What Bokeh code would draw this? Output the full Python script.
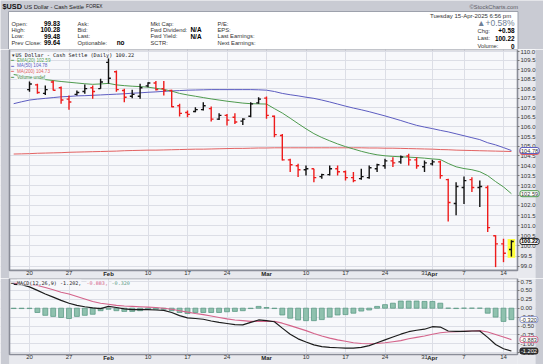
from bokeh.plotting import figure
from bokeh.models import Range1d, FixedTicker, Label, ColumnDataSource, PrintfTickFormatter, LinearAxis, Grid
from bokeh.layouts import column
from bokeh.embed import file_html
from bokeh.resources import INLINE
from bokeh.core.properties import value

# ---------------- data ----------------
dates = ["2025-01-16", "2025-01-17",
         "2025-01-20", "2025-01-21", "2025-01-22", "2025-01-23", "2025-01-24",
         "2025-01-27", "2025-01-28", "2025-01-29", "2025-01-30", "2025-01-31",
         "2025-02-03", "2025-02-04", "2025-02-05", "2025-02-06", "2025-02-07",
         "2025-02-10", "2025-02-11", "2025-02-12", "2025-02-13", "2025-02-14",
         "2025-02-17", "2025-02-18", "2025-02-19", "2025-02-20", "2025-02-21",
         "2025-02-24", "2025-02-25", "2025-02-26", "2025-02-27", "2025-02-28",
         "2025-03-03", "2025-03-04", "2025-03-05", "2025-03-06", "2025-03-07",
         "2025-03-10", "2025-03-11", "2025-03-12", "2025-03-13", "2025-03-14",
         "2025-03-17", "2025-03-18", "2025-03-19", "2025-03-20", "2025-03-21",
         "2025-03-24", "2025-03-25", "2025-03-26", "2025-03-27", "2025-03-28",
         "2025-03-31", "2025-04-01", "2025-04-02", "2025-04-03", "2025-04-04",
         "2025-04-07", "2025-04-08", "2025-04-09", "2025-04-10", "2025-04-11",
         "2025-04-14", "2025-04-15"]

opens = [None, None,
         107.95, 108.20, 107.75, 108.35, 108.05,
         107.45, 107.70, 107.85, 108.05, 108.00,
         109.40, 108.90, 107.90, 107.60, 107.60,
         108.15, 108.30, 108.00, 107.90, 107.10,
         106.75, 106.80, 106.90, 106.95, 106.40,
         106.60, 106.50, 106.30, 106.55, 107.25,
         107.50, 106.55, 105.55, 104.30, 104.00,
         103.80, 103.85, 103.45, 103.55, 103.85,
         103.70, 103.40, 103.35, 103.40, 103.85,
         104.00, 104.25, 104.20, 104.50, 104.30,
         103.95, 104.10, 104.20, 103.30, 102.10,
         102.90, 103.30, 102.90, 102.90, 100.50,
         100.10, 99.83]
highs = [None, None,
         108.38, 108.26, 108.17, 108.43, 108.12,
         107.64, 107.90, 108.22, 108.17, 108.52,
         109.68, 108.97, 107.99, 107.94, 108.26,
         108.34, 108.40, 108.40, 107.94, 107.20,
         106.85, 107.02, 107.29, 107.06, 106.71,
         106.67, 106.71, 106.45, 107.29, 107.55,
         107.59, 106.59, 105.63, 104.36, 104.10,
         104.02, 103.85, 103.60, 104.02, 104.02,
         103.76, 103.68, 103.85, 104.02, 104.10,
         104.36, 104.44, 104.53, 104.61, 104.44,
         104.27, 104.31, 104.27, 103.34, 103.17,
         103.46, 103.42, 103.26, 103.00, 100.52,
         100.35, 100.28]
lows = [None, None,
        107.84, 107.73, 107.67, 107.90, 107.20,
        106.89, 107.64, 107.73, 107.47, 107.99,
        108.26, 107.84, 107.29, 107.50, 107.47,
        108.07, 107.90, 107.64, 107.02, 106.54,
        106.50, 106.76, 106.85, 106.28, 106.36,
        106.07, 106.15, 106.10, 106.50, 107.20,
        106.42, 105.46, 104.27, 103.68, 103.43,
        103.51, 103.17, 103.34, 103.51, 103.51,
        103.26, 103.17, 103.29, 103.34, 103.68,
        103.85, 103.94, 104.10, 104.02, 103.85,
        103.68, 104.02, 103.34, 101.20, 101.51,
        102.08, 102.67, 101.92, 100.68, 98.97,
        99.21, 99.48]
closes = [None, None,
          108.25, 107.80, 107.95, 107.92, 107.40,
          107.30, 107.80, 108.00, 107.85, 108.35,
          108.55, 107.95, 107.55, 107.70, 108.05,
          108.30, 107.95, 107.90, 107.05, 106.70,
          106.65, 106.90, 107.10, 106.40, 106.60,
          106.35, 106.25, 106.40, 107.20, 107.45,
          106.60, 105.60, 104.30, 104.05, 103.80,
          103.85, 103.40, 103.55, 103.85, 103.70,
          103.40, 103.25, 103.45, 103.90, 104.05,
          104.25, 104.15, 104.45, 104.30, 104.00,
          104.15, 104.20, 103.50, 102.15, 102.95,
          103.25, 102.90, 102.95, 100.90, 100.10,
          99.64, 100.22]

ema20 = [108.75, 108.68, 108.62, 108.55, 108.48, 108.43, 108.38, 108.34, 108.30, 108.26,
         108.23, 108.25, 108.28, 108.20, 108.16, 108.13, 108.11, 108.08, 108.02, 107.96,
         107.87, 107.75, 107.67, 107.60, 107.53, 107.46, 107.40, 107.34, 107.29, 107.24,
         107.21, 107.20, 107.19, 106.95, 106.72, 106.45, 106.17, 105.90, 105.65, 105.45,
         105.28, 105.12, 104.98, 104.86, 104.74, 104.64, 104.56, 104.51, 104.48, 104.46,
         104.44, 104.42, 104.39, 104.35, 104.32, 104.12, 103.95, 103.86, 103.80, 103.70,
         103.50, 103.20, 102.93, 102.59]
ma50 = [107.21, 107.31, 107.40, 107.45, 107.49, 107.53, 107.57, 107.59, 107.62, 107.63,
        107.65, 107.67, 107.69, 107.71, 107.73, 107.76, 107.78, 107.81, 107.83, 107.86,
        107.88, 107.90, 107.92, 107.93, 107.94, 107.95, 107.95, 107.95, 107.95, 107.95,
        107.95, 107.94, 107.92, 107.85, 107.75, 107.68, 107.62, 107.55, 107.49, 107.40,
        107.30, 107.19, 107.08, 106.98, 106.89, 106.79, 106.68, 106.57, 106.45, 106.33,
        106.20, 106.08, 105.99, 105.91, 105.82, 105.74, 105.64, 105.54, 105.44, 105.34,
        105.18, 105.07, 104.93, 104.78]
ma200 = [104.60, 104.61, 104.62, 104.64, 104.65, 104.66, 104.67, 104.69, 104.70, 104.71,
         104.72, 104.73, 104.74, 104.75, 104.77, 104.78, 104.79, 104.80, 104.80, 104.81,
         104.82, 104.83, 104.84, 104.85, 104.85, 104.86, 104.87, 104.88, 104.89, 104.89,
         104.90, 104.91, 104.91, 104.92, 104.92, 104.92, 104.92, 104.92, 104.92, 104.92,
         104.92, 104.92, 104.92, 104.92, 104.92, 104.91, 104.91, 104.90, 104.90, 104.89,
         104.88, 104.87, 104.86, 104.85, 104.83, 104.82, 104.80, 104.79, 104.78, 104.77,
         104.76, 104.75, 104.74, 104.73]

macd_line = [0.67, 0.66, 0.60, 0.50, 0.40, 0.31, 0.22, 0.14, 0.08, 0.04,
             0.01, -0.01, 0.05, 0.02, -0.02, -0.04, -0.04, -0.04, -0.05, -0.06,
             -0.12, -0.21, -0.27, -0.29, -0.31, -0.36, -0.40, -0.43, -0.46, -0.47,
             -0.40, -0.33, -0.35, -0.38, -0.56, -0.73, -0.86, -0.95, -1.03, -1.08,
             -1.10, -1.11, -1.12, -1.12, -1.10, -1.05, -0.97, -0.89, -0.81, -0.73,
             -0.66, -0.62, -0.59, -0.52, -0.53, -0.64, -0.65, -0.65, -0.64, -0.64,
             -0.82, -1.02, -1.14, -1.202]
macd_signal = [0.70, 0.69, 0.67, 0.64, 0.58, 0.52, 0.45, 0.40, 0.33, 0.26,
               0.19, 0.14, 0.11, 0.08, 0.06, 0.05, 0.04, 0.03, 0.02, 0.00,
               -0.03, -0.07, -0.11, -0.15, -0.18, -0.22, -0.26, -0.30, -0.33, -0.35,
               -0.37, -0.37, -0.37, -0.37, -0.42, -0.49, -0.56, -0.63, -0.71, -0.78,
               -0.84, -0.89, -0.93, -0.97, -0.99, -1.00, -0.99, -0.97, -0.94, -0.91,
               -0.86, -0.82, -0.78, -0.73, -0.69, -0.67, -0.66, -0.65, -0.64, -0.63,
               -0.67, -0.74, -0.81, -0.883]
macd_hist = [-0.01, -0.01, -0.01, -0.12, -0.20, -0.23, -0.26, -0.29, -0.23, -0.20,
             -0.17, -0.07, -0.03, -0.07, -0.09, -0.09, -0.07, -0.03, -0.03, -0.03,
             -0.07, -0.12, -0.15, -0.12, -0.12, -0.12, -0.12, -0.10, -0.09, -0.07,
             -0.01, 0.05, 0.02, -0.01, -0.19, -0.28, -0.33, -0.35, -0.35, -0.32,
             -0.25, -0.19, -0.18, -0.14, -0.08, -0.05, 0.05, 0.10, 0.14, 0.20,
             0.20, 0.20, 0.19, 0.19, 0.14, 0.00, -0.01, 0.00, 0.00, 0.00,
             -0.14, -0.25, -0.37, -0.320]

tick_dates = ["2025-01-20", "2025-01-27", "2025-02-03", "2025-02-10", "2025-02-17",
              "2025-02-24", "2025-03-03", "2025-03-10", "2025-03-17", "2025-03-24",
              "2025-03-31", "2025-04-01", "2025-04-07", "2025-04-14"]
tick_labels = ["20", "27", "Feb", "10", "17", "24", "Mar", "10", "17", "24", "31", "Apr", "7", "14"]
month_labels = ["Feb", "Mar", "Apr"]
grid_dates = ["2025-01-20", "2025-01-27", "2025-02-03", "2025-02-10", "2025-02-17",
              "2025-02-24", "2025-03-03", "2025-03-10", "2025-03-17", "2025-03-24",
              "2025-04-01", "2025-04-07", "2025-04-14"]
price_ticks = [99.0, 99.5, 100.0, 100.5, 101.0, 101.5, 102.0, 102.5, 103.0, 103.5, 104.0,
               104.5, 105.0, 105.5, 106.0, 106.5, 107.0, 107.5, 108.0, 108.5, 109.0, 109.5, 110.0]
macd_ticks = [-1.25, -1.0, -0.75, -0.5, -0.25, 0.0, 0.25, 0.5, 0.75]

symbol = "$USD"
name = "US Dollar - Cash Settle"
exchange = "FOREX"
hdr_col1_labels = ["Open:", "High:", "Low:", "Prev Close:"]
hdr_col1_values = ["99.83", "100.28", "99.48", "99.64"]
hdr_col2_labels = ["Ask:", "Bid:", "Last:", "Optionable:"]
hdr_col2_values = ["", "", "", "no"]
hdr_col3_labels = ["Mkt Cap:", "Fwd Dividend:", "Fwd Yield:", "SCTR:"]
hdr_col3_values = ["", "N/A", "N/A", ""]
hdr_col4_labels = ["P/E:", "EPS:", "Last Earnings:", "Next Earnings:"]
hdr_date = "Tuesday  15-Apr-2025  6:56 pm"
hdr_pct = "\u25b2+0.58%"
hdr_right_labels = ["Chg:", "Last:", "Volume:"]
hdr_right_values = ["+0.58", "100.22", "0"]

assert len(dates) == 64
for arr in (opens, highs, lows, closes, ema20, ma50, ma200, macd_line, macd_signal, macd_hist):
    assert len(arr) == 64, len(arr)

# ---------------- style ----------------
W = 543
FONT = "Liberation Sans"
MONO = "DejaVu Sans Mono"
PLOT_BG = "#f7f8fb"
AXIS_BG = "#e8e9ee"
OUTER = "#c9cbd3"
GRID = "#dcdee6"
GRID_MONTH = "#b9bcc6"
BORDER = "#8a8d98"
UP = "#111111"
DOWN = "#ee1c1c"
C_EMA = "#4e9a4e"
C_MA50 = "#5c5cc0"
C_MA200 = "#e26262"
C_MACD = "#1c1c1c"
C_SIG = "#d4638a"
C_HIST = "#8fc1ae"
C_HIST_LINE = "#5d9a86"

n = len(dates)
idx = list(range(n))


def pos(d):
    return dates.index(d)


tick_idx = [pos(d) for d in tick_dates]
grid_idx = [pos(d) for d in grid_dates]
overrides = {t: ("" if lab in month_labels else lab) for t, lab in zip(tick_idx, tick_labels)}
month_idx = [(t, lab) for t, lab in zip(tick_idx, tick_labels) if lab in month_labels]


def ix(px):
    # page x (pixels) -> bar index
    return (px - 13.2) / 7.9


XL, XR = ix(0), ix(W)          # whole figure width is frame
X0, X1 = ix(9.0), ix(517.0)     # plot panel
XA = ix(535.0)                  # end of axis strip
xr = Range1d(XL, XR)

# ---------------- header ----------------
HH = 49
h = figure(width=W, height=HH, x_range=Range1d(0, W), y_range=Range1d(HH, 0),
           toolbar_location=None, output_backend="svg", min_border=0,
           x_axis_location=None, y_axis_location=None,
           background_fill_color=OUTER, border_fill_color=OUTER, outline_line_color=None)
h.grid.visible = False
h.quad(left=[8], right=[517.5], top=[11], bottom=[HH + 1], fill_color="white", line_color="#9da1ac")


def htext(xs, ys, texts, size="5.8px", style="normal", align="left", color="#333333", font=FONT):
    h.text(x=xs, y=ys, text=texts, text_font=value(font), text_font_size=value(size),
           text_font_style=style, text_align=align, text_baseline="middle", text_color=color)


rows = [23.0, 29.4, 35.8, 42.3]
htext([2], [6], [symbol], size="7.3px", style="bold", color="#111111")
htext([23.5], [6.3], [name], size="5.8px", color="#222222")
htext([85.5], [6.3], [exchange], size="4.8px", color="#222222")
htext([517.5], [6], ["\u00a9StockCharts.com"], size="5.8px", align="right", color="#5c5c66")
htext([11] * 4, rows, hdr_col1_labels)
htext([59.5] * 4, rows, hdr_col1_values, size="6.4px", style="bold", align="right", color="#000000")
htext([77] * 4, rows, hdr_col2_labels)
htext([124] * 4, rows, hdr_col2_values, size="6.4px", style="bold", align="right", color="#000000")
htext([150] * 4, rows, hdr_col3_labels)
htext([190] * 4, rows, hdr_col3_values, size="6.4px", style="bold", color="#000000")
htext([217] * 4, rows, hdr_col4_labels)
htext([514], [15], [hdr_date], size="6px", align="right")
htext([514], [22.4], [hdr_pct], size="8.5px", align="right", color="#6f7f96")
htext([477] * 3, [30.0, 37.7, 45.5], hdr_right_labels)
htext([514] * 3, [30.0, 37.7, 45.5], hdr_right_values, size="6.4px", style="bold", align="right",
      color="#000000")


# ---------------- helpers ----------------
def make_panel(height, yr, ylog, y_lo, y_bottom_end, yticks, yfmt):
    """Panel whose frame covers the whole figure; plot area is X0..X1 x y_lo..top."""
    fig = figure(width=W, height=height, x_range=xr, y_range=yr,
                 y_axis_type="log" if ylog else "linear",
                 y_axis_location="right", x_axis_location="below",
                 toolbar_location=None, output_backend="svg", min_border=0,
                 background_fill_color=PLOT_BG, border_fill_color=OUTER, outline_line_color=None)
    top = yr.end
    bot = y_bottom_end
    # darker grid lines at month starts
    fig.add_layout(Grid(dimension=0, ticker=FixedTicker(ticks=[t for t, _ in month_idx]),
                        grid_line_color=GRID_MONTH, grid_line_width=1))
    # strips that are not plot area (cover the grid lines there)
    fig.quad(left=[XL], right=[X0], bottom=[bot], top=[top], fill_color=OUTER, line_color=None)
    fig.quad(left=[X1], right=[XA], bottom=[bot], top=[top], fill_color=AXIS_BG, line_color=None)
    fig.quad(left=[XA], right=[XR], bottom=[bot], top=[top], fill_color=OUTER, line_color=None)
    fig.quad(left=[X0], right=[X1], bottom=[bot], top=[y_lo], fill_color=AXIS_BG, line_color=None)
    # y axis (tick labels in the strip right of the panel)
    ya = fig.yaxis[0]
    ya.fixed_location = X1
    ya.ticker = FixedTicker(ticks=yticks)
    ya.formatter = PrintfTickFormatter(format=yfmt)
    ya.major_label_text_font = FONT
    ya.major_label_text_font_size = "6px"
    ya.major_label_text_color = "#333333"
    ya.major_label_standoff = 1
    ya.major_tick_out = 2
    ya.major_tick_in = 0
    ya.major_tick_line_color = "#777777"
    ya.minor_tick_out = 0
    ya.minor_tick_in = 0
    ya.axis_line_color = None
    # x axis (date labels below the panel)
    xa = fig.xaxis[0]
    xa.fixed_location = y_lo
    xa.ticker = FixedTicker(ticks=tick_idx)
    xa.major_label_overrides = overrides
    xa.major_label_text_font = FONT
    xa.major_label_text_font_size = "6px"
    xa.major_label_text_color = "#333333"
    xa.major_label_standoff = 1
    xa.major_tick_out = 0
    xa.major_tick_in = 0
    xa.minor_tick_out = 0
    xa.minor_tick_in = 0
    xa.axis_line_color = None
    xa.major_tick_line_color = None
    # bold month labels
    ma = LinearAxis(ticker=FixedTicker(ticks=[t for t, _ in month_idx]), fixed_location=y_lo,
                    major_label_overrides={t: lab for t, lab in month_idx},
                    major_label_text_font=FONT, major_label_text_font_size="6px",
                    major_label_text_font_style="bold", major_label_text_color="#222222",
                    major_label_standoff=1, major_tick_out=0, major_tick_in=0,
                    minor_tick_out=0, minor_tick_in=0, axis_line_color=None,
                    major_tick_line_color=None, minor_tick_line_color=None)
    fig.add_layout(ma, "below")
    fig.xgrid.ticker = FixedTicker(ticks=grid_idx)
    fig.ygrid.ticker = FixedTicker(ticks=yticks)
    fig.xgrid.grid_line_color = GRID
    fig.ygrid.grid_line_color = GRID
    return fig


def panel_border(fig, y_lo, y_hi):
    fig.quad(left=[X0], right=[X1], bottom=[y_lo], top=[y_hi], fill_alpha=0, line_color=BORDER,
             line_width=1.6)


def value_box(fig, val, text, border, bg, tcol, bold=False):
    fig.add_layout(Label(x=ix(519.5), y=val, text=text, text_font=FONT, text_font_size="5.6px",
                         text_font_style="bold" if bold else "normal",
                         text_baseline="middle", text_align="left", text_color=tcol,
                         background_fill_color=bg, border_line_color=border, border_line_width=1,
                         padding=1, border_radius=2))


# ---------------- price panel ----------------
YP_TOP, YP_LO, YP_END = 110.09, 98.81, 98.42
p = make_panel(229, Range1d(YP_END, YP_TOP), True, YP_LO, YP_END, price_ticks, "%.1f")

p.line(idx, ma200, color=C_MA200, line_width=1)
p.line(idx, ma50, color=C_MA50, line_width=1)
p.line(idx, ema20, color=C_EMA, line_width=1)

bars = [i for i in idx if opens[i] is not None]
last = bars[-1]
p.quad(left=[last - 0.48], right=[last + 0.48], bottom=[lows[last] - 0.06], top=[highs[last] + 0.06],
       fill_color="#ffff3c", line_color=None)

colors = []
for i in bars:
    prev = closes[i - 1] if (i > 0 and closes[i - 1] is not None) else opens[i]
    colors.append(UP if closes[i] >= prev else DOWN)
src = ColumnDataSource(dict(
    x=[float(i) for i in bars], xl=[i - 0.3 for i in bars], xr=[i + 0.3 for i in bars],
    o=[opens[i] for i in bars], h=[highs[i] for i in bars], l=[lows[i] for i in bars],
    c=[closes[i] for i in bars], color=colors))
p.segment(x0="x", y0="l", x1="x", y1="h", color="color", line_width=1.4, source=src)
p.segment(x0="xl", y0="o", x1="x", y1="o", color="color", line_width=1.4, source=src)
p.segment(x0="x", y0="c", x1="xr", y1="c", color="color", line_width=1.4, source=src)
panel_border(p, YP_LO, YP_TOP)

# legend
leg_rows = [(109.77, None, "US Dollar - Cash Settle (Daily) " + f"{closes[last]:.2f}", "#111111"),
            (109.50, C_EMA, f"EMA(20) {ema20[-1]:.2f}", C_EMA),
            (109.21, C_MA50, f"MA(50) {ma50[-1]:.2f}", C_MA50),
            (108.93, C_MA200, f"MA(200) {ma200[-1]:.2f}", C_MA200),
            (108.60, "#3f8a3f", "Volume undef", "#3f8a3f")]
for k, (yv, mark, txt, col) in enumerate(leg_rows):
    if k == 0:
        p.add_layout(Label(x=ix(10.5), y=yv, text="\u25bc", text_font=FONT, text_font_size="4.5px",
                           text_baseline="middle", text_color="#333333"))
        p.add_layout(Label(x=ix(15), y=yv, text=txt, text_font=MONO, text_font_size="5.2px",
                           text_baseline="middle", text_color=col,
                           background_fill_color=PLOT_BG, background_fill_alpha=0.85))
    else:
        p.add_layout(Label(x=ix(10.5), y=yv, text="\u2501", text_font=FONT, text_font_size="5px",
                           text_baseline="middle", text_color=mark))
        p.add_layout(Label(x=ix(16.5), y=yv, text=txt, text_font=FONT, text_font_size="4.6px",
                           text_baseline="middle", text_color=col,
                           background_fill_color=PLOT_BG, background_fill_alpha=0.85))

value_box(p, ma200[-1], f"{ma200[-1]:.2f}", C_MA200, "white", "#333333")
value_box(p, ma50[-1], f"{ma50[-1]:.2f}", C_MA50, "white", "#333333")
value_box(p, ema20[-1], f"{ema20[-1]:.2f}", C_EMA, "white", "#333333")
value_box(p, closes[last], f"{closes[last]:.2f}", "#222222", "white", "#000000", bold=True)

# ---------------- MACD panel ----------------
YM_TOP, YM_LO, YM_END = 0.834, -1.30, -1.581
m = make_panel(364 - HH - 229, Range1d(YM_END, YM_TOP), False, YM_LO, YM_END, macd_ticks, "%.2f")

m.vbar(x=idx, top=macd_hist, bottom=0, width=0.62, fill_color=C_HIST, line_color=C_HIST_LINE,
       line_width=0.8)
m.line(idx, macd_signal, color=C_SIG, line_width=1.1)
m.line(idx, macd_line, color=C_MACD, line_width=1.2)
panel_border(m, YM_LO, YM_TOP)

m.add_layout(Label(x=ix(10.5), y=0.72, text="\u2501", text_font=FONT, text_font_size="5px",
                   text_baseline="middle", text_color=C_MACD))
m.add_layout(Label(x=ix(16.5), y=0.72, text=f"MACD(12,26,9) {macd_line[-1]:.3f},", text_font=MONO,
                   text_font_size="5.1px", text_baseline="middle", text_color="#222222",
                   background_fill_color=PLOT_BG, background_fill_alpha=0.85))
m.add_layout(Label(x=ix(86), y=0.72, text=f"{macd_signal[-1]:.3f},", text_font=MONO,
                   text_font_size="5.1px", text_baseline="middle", text_color=C_SIG,
                   background_fill_color=PLOT_BG, background_fill_alpha=0.85))
m.add_layout(Label(x=ix(111), y=0.72, text=f"{macd_hist[-1]:.3f}", text_font=MONO,
                   text_font_size="5.1px", text_baseline="middle", text_color="#5d9a86",
                   background_fill_color=PLOT_BG, background_fill_alpha=0.85))

value_box(m, macd_hist[-1], f"{macd_hist[-1]:.3f}", "#8c95c8", "white", "#333333")
value_box(m, macd_signal[-1], f"{macd_signal[-1]:.3f}", C_SIG, "white", "#333333")
value_box(m, macd_line[-1], f"{macd_line[-1]:.3f}", "#222222", "#333333", "#ffffff")

layout = column(h, p, m, spacing=0)
open("out.html", "w").write(file_html(layout, INLINE))
